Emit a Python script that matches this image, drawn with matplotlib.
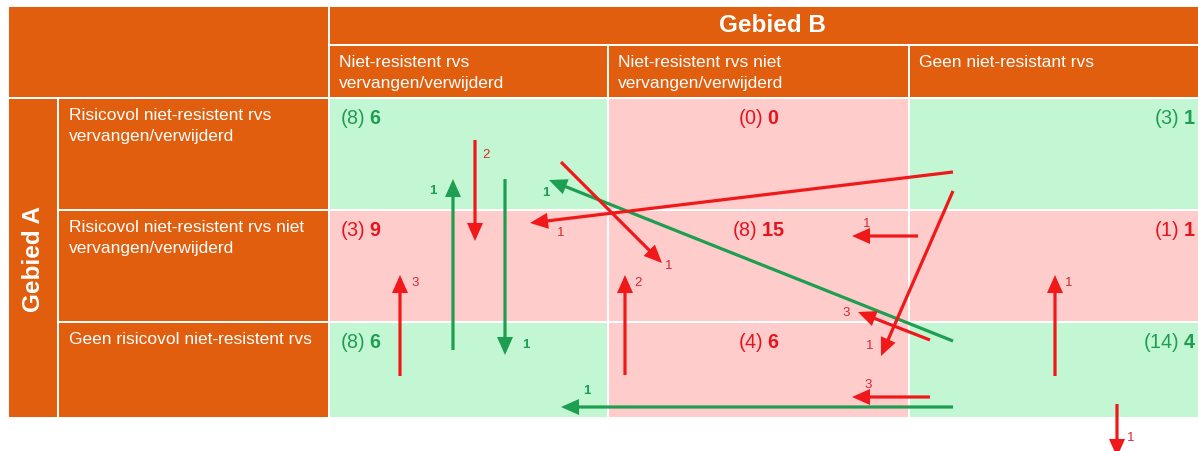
import matplotlib
matplotlib.use('Agg')
import matplotlib.pyplot as plt
from matplotlib.patches import Rectangle, FancyArrowPatch

plt.rcParams['font.family'] = ['Liberation Sans', 'DejaVu Sans']
plt.rcParams['mathtext.fontset'] = 'custom'
plt.rcParams['mathtext.rm'] = 'Liberation Sans'
plt.rcParams['mathtext.bf'] = 'Liberation Sans:bold'

# ---------------- data ----------------
title_a = "Gebied A"
title_b = "Gebied B"
row_labels = ["Risicovol niet-resistent rvs\nvervangen/verwijderd",
              "Risicovol niet-resistent rvs niet\nvervangen/verwijderd",
              "Geen risicovol niet-resistent rvs"]
col_labels = ["Niet-resistent rvs\nvervangen/verwijderd",
              "Niet-resistent rvs niet\nvervangen/verwijderd",
              "Geen niet-resistant rvs"]
prev_counts = [[8, 0, 3], [3, 8, 1], [8, 4, 14]]
curr_counts = [[6, 0, 1], [9, 15, 1], [6, 6, 4]]
cell_ok = [[1, 0, 1], [0, 0, 0], [1, 0, 1]]
flow_counts = [2, 1, 1, 1, 1, 1, 3, 2, 1, 1, 3, 3, 1, 1, 1]
flow_ok = [0, 1, 1, 0, 1, 0, 0, 0, 0, 0, 0, 0, 1, 0, 0]

# ---------------- layout (pixel units) ----------------
W, H = 1198, 452
col_edges = [329, 608, 909, 1215]
row_edges = [98.5, 210.5, 322.5, 419]
# (start, end, label position) for each flow arrow
flow_paths = [
    ((475, 141), (475, 242), (486, 155)),
    ((453, 351), (453, 180), (433, 191)),
    ((505, 180), (505, 356), (526, 345)),
    ((953, 173), (530, 224), (561, 233)),
    ((953, 342), (549, 181), (546, 193)),
    ((561, 163), (662, 264), (669, 266)),
    ((400, 377), (400, 276), (415, 283)),
    ((625, 376), (625, 276), (638, 283)),
    ((918, 237), (852, 237), (867, 224)),
    ((953, 192), (881, 357), (870, 346)),
    ((930, 341), (858, 313), (846, 313)),
    ((930, 398), (852, 398), (868, 385)),
    ((953, 408), (561, 408), (587, 391)),
    ((1055, 377), (1055, 276), (1069, 283)),
    ((1117, 405), (1117, 458), (1131, 438)),
]

ORANGE = '#E05E0E'
GREEN_BG = '#C3F7D4'
PINK_BG = '#FFCCCC'
RED = '#F01818'
GREEN = '#1E9E50'
RED_TXT = '#E6141E'
RED_LBL = '#D42A32'

fig = plt.figure(figsize=(W / 100, H / 100), dpi=100)
ax = fig.add_axes([0, 0, 1, 1])
ax.set_xlim(0, W)
ax.set_ylim(H, 0)
ax.axis('off')


def rect(x0, y0, x1, y1, fc):
    ax.add_patch(Rectangle((x0, y0), x1 - x0, y1 - y0, facecolor=fc,
                           edgecolor='white', linewidth=1.4, zorder=1))


# header blocks
rect(8, 7, col_edges[0], row_edges[0], ORANGE)
rect(col_edges[0], 7, col_edges[-1], 45.5, ORANGE)
ax.text((col_edges[0] + col_edges[-1]) / 2, 26, title_b, color='white',
        fontsize=17.5, fontweight='bold', ha='center', va='center', zorder=3)
for j, lab in enumerate(col_labels):
    rect(col_edges[j], 45.5, col_edges[j + 1], row_edges[0], ORANGE)
    ax.text(col_edges[j] + 10, 55, lab, color='white', fontsize=12.5,
            ha='left', va='top', linespacing=1.5, zorder=3)

# left blocks
rect(8, row_edges[0], 58, row_edges[-1], ORANGE)
ax.text(33, (row_edges[0] + row_edges[-1]) / 2, title_a, color='white',
        fontsize=17.5, fontweight='bold', rotation=90, ha='center',
        va='center', zorder=3)
for i, lab in enumerate(row_labels):
    rect(58, row_edges[i], col_edges[0], row_edges[i + 1], ORANGE)
    ax.text(69, row_edges[i] + 9.5, lab, color='white', fontsize=12.5,
            ha='left', va='top', linespacing=1.5, zorder=3)

# cells
aligns = ['left', 'center', 'right']
for i in range(3):
    for j in range(3):
        ok = cell_ok[i][j]
        rect(col_edges[j], row_edges[i], col_edges[j + 1], row_edges[i + 1],
             GREEN_BG if ok else PINK_BG)
        if j == 0:
            x = col_edges[j] + 11
        elif j == 1:
            x = (col_edges[j] + col_edges[j + 1]) / 2
        else:
            x = W - 2
        ax.text(x, row_edges[i] + 20,
                f"({prev_counts[i][j]}) $\\mathbf{{{curr_counts[i][j]}}}$",
                color=GREEN if ok else RED_TXT, fontsize=14.2,
                ha=aligns[j], va='center', zorder=3)

# flows
for (start, end, lab), n, ok in zip(flow_paths, flow_counts, flow_ok):
    c = GREEN if ok else RED
    arr = FancyArrowPatch(start, end,
                          arrowstyle='-|>,head_length=9,head_width=4',
                          mutation_scale=1, color=c, linewidth=2.3,
                          shrinkA=0, shrinkB=0, zorder=4 if ok else 5,
                          joinstyle='miter', capstyle='butt')
    ax.add_patch(arr)
    ax.text(lab[0], lab[1], str(n), color=GREEN if ok else RED_LBL,
            fontsize=9.5, fontweight='bold' if ok else 'normal',
            ha='center', va='center', zorder=6)

fig.savefig('out.png', dpi=100, facecolor='white')
